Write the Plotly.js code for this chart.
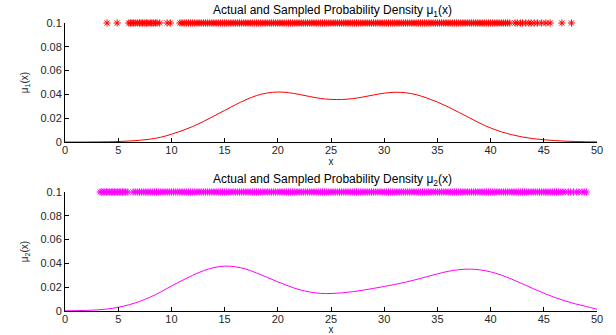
<!DOCTYPE html>
<html><head><meta charset="utf-8">
<script src="https://cdn.plot.ly/plotly-3.0.1.min.js"></script>
<style>html,body{margin:0;padding:0;background:#fff}#c{width:616px;height:335px}</style>
</head><body><div id="c"></div>
<script>
// Density grid
const xGrid = [0,1,2,3,4,5,6,7,8,9,10,11,12,13,14,15,16,17,18,19,20,21,22,23,24,25,26,27,28,29,30,31,32,33,34,35,36,37,38,39,40,41,42,43,44,45,46,47,48,49,50];
const mu1 = [0.0000,0.0000,0.0000,0.0001,0.0002,0.0004,0.0008,0.0014,0.0024,0.0040,0.0065,0.0095,0.0130,0.0172,0.0218,0.0265,0.0312,0.0355,0.0390,0.0412,0.0420,0.0415,0.0400,0.0382,0.0366,0.0358,0.0357,0.0364,0.0378,0.0395,0.0410,0.0418,0.0414,0.0398,0.0370,0.0336,0.0295,0.0250,0.0204,0.0158,0.0118,0.0086,0.0061,0.0042,0.0028,0.0019,0.0012,0.0007,0.0004,0.0002,0.0001];
const mu2 = [0.0002,0.0003,0.0005,0.0009,0.0017,0.0031,0.0052,0.0080,0.0116,0.0160,0.0210,0.0256,0.0300,0.0338,0.0365,0.0377,0.0372,0.0352,0.0320,0.0283,0.0245,0.0210,0.0180,0.0160,0.0148,0.0147,0.0152,0.0162,0.0175,0.0190,0.0206,0.0223,0.0242,0.0264,0.0288,0.0312,0.0333,0.0347,0.0352,0.0346,0.0329,0.0302,0.0267,0.0228,0.0188,0.0150,0.0115,0.0085,0.0059,0.0038,0.0015];
// Samples (drawn at y = 0.1)
const samples1 = [3.95,4.9,
6.0,6.15,6.3,6.45,6.6,6.8,7.0,7.15,7.3,7.5,7.65,7.8,8.0,8.15,8.3,8.5,8.65,8.9,9.6,9.9,
10.8,11.0,11.2,11.4,11.6,11.8,12.0,12.2,12.4,12.6,12.8,13.0,13.2,13.4,13.6,13.8,14.0,14.2,14.4,14.6,14.8,15.0,15.2,15.4,15.6,15.8,
16.0,16.2,16.4,16.6,16.8,17.0,17.2,17.4,17.6,17.8,18.0,18.2,18.4,18.6,18.8,19.0,19.2,19.4,19.6,19.8,20.0,20.2,20.4,20.6,20.8,
21.0,21.2,21.4,21.6,21.8,22.0,22.2,22.4,22.6,22.8,23.0,23.2,23.4,23.6,23.8,24.0,24.2,24.4,24.6,24.8,25.0,25.2,25.4,25.6,25.8,
26.0,26.2,26.4,26.6,26.8,27.0,27.2,27.4,27.6,27.8,28.0,28.2,28.4,28.6,28.8,29.0,29.2,29.4,29.6,29.8,30.0,30.2,30.4,30.6,30.8,
31.0,31.2,31.4,31.6,31.8,32.0,32.2,32.4,32.6,32.8,33.0,33.2,33.4,33.6,33.8,34.0,34.2,34.4,34.6,34.8,35.0,35.2,35.4,35.6,35.8,
36.0,36.2,36.4,36.6,36.8,37.0,37.2,37.4,37.6,37.8,38.0,38.2,38.4,38.6,38.8,39.0,39.2,39.4,39.6,39.8,40.0,40.2,40.4,40.6,40.8,
41.0,41.2,41.4,41.6,41.8,
42.3,42.5,42.8,43.0,43.3,43.6,43.8,44.1,44.4,44.8,45.2,45.6,46.7,47.6];
const samples2 = [3.3,3.45,3.6,3.75,3.9,4.05,4.2,4.35,4.5,4.65,4.8,4.95,5.1,5.25,5.4,5.55,5.7,5.9,
6.4,6.6,6.8,7.0,7.2,7.4,7.6,7.8,8.0,8.2,8.4,8.6,8.8,9.0,9.2,9.4,9.6,9.8,10.0,10.2,10.4,10.6,10.8,
11.0,11.2,11.4,11.6,11.8,12.0,12.2,12.4,12.6,12.8,13.0,13.2,13.4,13.6,13.8,14.0,14.2,14.4,14.6,14.8,15.0,15.2,15.4,15.6,15.8,
16.0,16.2,16.4,16.6,16.8,17.0,17.2,17.4,17.6,17.8,18.0,18.2,18.4,18.6,18.8,19.0,19.2,19.4,19.6,19.8,20.0,20.2,20.4,20.6,20.8,
21.0,21.2,21.4,21.6,21.8,22.0,22.2,22.4,22.6,22.8,23.0,23.2,23.4,23.6,23.8,24.0,24.2,24.4,24.6,24.8,25.0,25.2,25.4,25.6,25.8,
26.0,26.2,26.4,26.6,26.8,27.0,27.2,27.4,27.6,27.8,28.0,28.2,28.4,28.6,28.8,29.0,29.2,29.4,29.6,29.8,30.0,30.2,30.4,30.6,30.8,
31.0,31.2,31.4,31.6,31.8,32.0,32.2,32.4,32.6,32.8,33.0,33.2,33.4,33.6,33.8,34.0,34.2,34.4,34.6,34.8,35.0,35.2,35.4,35.6,35.8,
36.0,36.2,36.4,36.6,36.8,37.0,37.2,37.4,37.6,37.8,38.0,38.2,38.4,38.6,38.8,39.0,39.2,39.4,39.6,39.8,40.0,40.2,40.4,40.6,40.8,
41.0,41.2,41.4,41.6,41.8,42.0,42.2,42.4,42.6,42.8,43.0,43.2,43.4,43.6,43.8,44.0,44.2,44.4,44.6,44.8,45.0,45.2,45.4,45.6,45.8,
46.0,46.2,46.4,46.6,46.8,47.0,47.3,47.5,47.8,48.1,48.3,48.6,48.8,49.0];
const sampleLevel = 0.1;
const xTicks = [0,5,10,15,20,25,30,35,40,45,50];
const yTicks = [0,0.02,0.04,0.06,0.08,0.1];
const title1 = 'Actual and Sampled Probability Density μ<sub>1</sub>(x)';
const title2 = 'Actual and Sampled Probability Density μ<sub>2</sub>(x)';

const RED = '#ff0000', MAG = '#ff00ff';
const FONT = {family: 'Liberation Sans, Arial, sans-serif', size: 11, color: '#262626'};
const YT = {family: FONT.family, size: 10, color: '#262626'};

const traces = [
  {x: samples1, y: samples1.map(() => sampleLevel), type: 'scatter', mode: 'markers', xaxis: 'x', yaxis: 'y', cliponaxis: false,
   marker: {symbol: 'asterisk-open', size: 6, color: RED, line: {color: RED, width: 1}}},
  {x: xGrid, y: mu1, type: 'scatter', mode: 'lines', xaxis: 'x', yaxis: 'y', line: {color: RED, width: 1, shape: 'spline', smoothing: 1}},
  {x: samples2, y: samples2.map(() => sampleLevel), type: 'scatter', mode: 'markers', xaxis: 'x2', yaxis: 'y2', cliponaxis: false,
   marker: {symbol: 'asterisk-open', size: 6, color: MAG, line: {color: MAG, width: 1}}},
  {x: xGrid, y: mu2, type: 'scatter', mode: 'lines', xaxis: 'x2', yaxis: 'y2', line: {color: MAG, width: 1, shape: 'spline', smoothing: 1}}
];

const H = 335, W = 616;
const ax = (extra) => Object.assign({
  showline: true, linecolor: '#000', linewidth: 1, mirror: false,
  ticks: 'inside', ticklen: 4, tickcolor: '#000', showgrid: false, zeroline: false,
  tickfont: FONT, automargin: false
}, extra);

const layout = {
  width: W, height: H, showlegend: false,
  paper_bgcolor: '#fff', plot_bgcolor: '#fff',
  margin: {l: 0, r: 0, t: 0, b: 0},
  font: FONT,
  xaxis: ax({domain: [65/W, 597/W], range: [0, 50], tickvals: xTicks, anchor: 'y', ticklabelstandoff: -2,
    title: {text: 'x', font: YT, standoff: 0}}),
  yaxis: ax({domain: [1 - 142/H, 1 - 23/H], range: [0, 0.1], tickvals: yTicks, anchor: 'x', ticklabelstandoff: 0,
    title: {text: 'μ<sub>1</sub>(x)', font: YT, standoff: 9}}),
  xaxis2: ax({domain: [65/W, 597/W], range: [0, 50], tickvals: xTicks, anchor: 'y2', ticklabelstandoff: -2,
    title: {text: 'x', font: YT, standoff: 0}}),
  yaxis2: ax({domain: [1 - 311/H, 1 - 192/H], range: [0, 0.1], tickvals: yTicks, anchor: 'x2', ticklabelstandoff: 0,
    title: {text: 'μ<sub>2</sub>(x)', font: YT, standoff: 9}}),
  annotations: [
    {text: title1, xref: 'paper', yref: 'paper', x: 332/W, y: 1 - 11/H, xanchor: 'center', yanchor: 'middle', showarrow: false, font: {family: FONT.family, size: 12, color: '#000'}},
    {text: title2, xref: 'paper', yref: 'paper', x: 332/W, y: 1 - 180/H, xanchor: 'center', yanchor: 'middle', showarrow: false, font: {family: FONT.family, size: 12, color: '#000'}}
  ]
};

Plotly.newPlot('c', traces, layout, {staticPlot: true, displayModeBar: false});
</script></body></html>
